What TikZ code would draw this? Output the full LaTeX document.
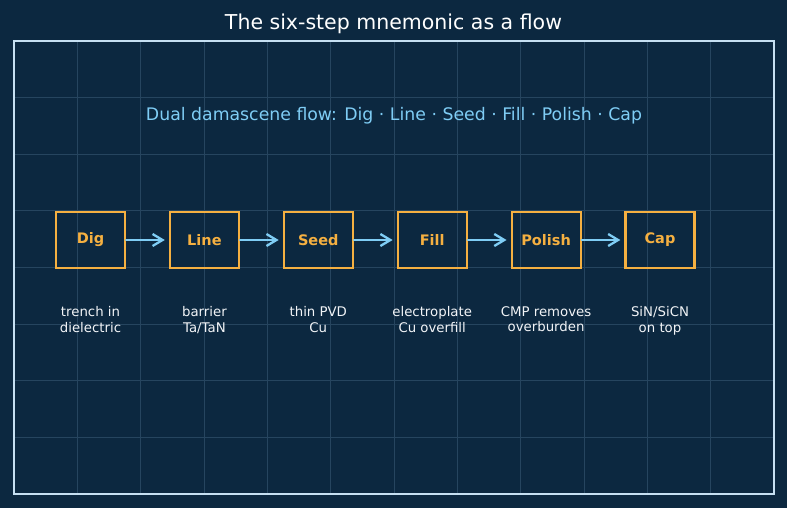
\documentclass[tikz,border=0pt]{standalone}
\usepackage{fontspec}
\setmainfont{DejaVu Sans}
\usepackage{xcolor}
\usepackage{tikz}
\usetikzlibrary{arrows.meta,positioning}

\definecolor{bgnavy}{HTML}{0C2840}
\definecolor{gridblue}{HTML}{26455F}
\definecolor{framewhite}{HTML}{C6E0F2}
\definecolor{steporange}{HTML}{F5B041}
\definecolor{flowblue}{HTML}{7FCDF5}
\definecolor{notewhite}{HTML}{F2F4F7}

\begin{document}
\begin{tikzpicture}[
    x=1pt, y=-1pt,
    node distance=42.7pt,
    stepbox/.style={draw=steporange, line width=2.2pt, minimum width=69pt, minimum height=56pt,
                    text=steporange, font=\fontsize{14.5}{17}\selectfont\bfseries},
    note/.style={text=notewhite, align=center, inner sep=0pt,
                 font=\fontsize{13.3}{15.8}\selectfont},
    flow/.style={-{Straight Barb[length=10pt, width=12pt]}, line width=2.3pt, flowblue,
                 shorten >=4pt, line cap=round},
    gridline/.style={gridblue, line width=0.8pt}
]

% Background and frame
\fill[bgnavy] (0,0) rectangle (787,508);
\useasboundingbox (0,0) rectangle (787,508);
\foreach \gx in {1,...,11}
    \draw[gridline] (14+63.33*\gx, 41) -- ++(0,453);
\foreach \gy in {1,...,7}
    \draw[gridline] (14, 41+56.6*\gy) -- ++(760,0);
\draw[framewhite, line width=1.6pt] (14,41) rectangle (774,494);

% Titles
\node[text=white, font=\fontsize{20.5}{24}\selectfont] (title) at (393.5,23.5) {The six-step mnemonic as a flow};
\node[text=flowblue, font=\fontsize{17.3}{20}\selectfont] (subtitle) at (394,116)
    {Dual damascene flow: Dig · Line · Seed · Fill · Polish · Cap};

% Steps
\node[stepbox] (dig) at (90.5,240) {Dig};
\node[stepbox, right=of dig] (line) {Line};
\node[stepbox, right=of line] (seed) {Seed};
\node[stepbox, right=of seed] (fill) {Fill};
\node[stepbox, right=of fill] (polish) {Polish};
\node[stepbox, right=of polish] (cap) {Cap};

% Arrows
\draw[flow] (dig) -- (line);
\draw[flow] (line) -- (seed);
\draw[flow] (seed) -- (fill);
\draw[flow] (fill) -- (polish);
\draw[flow] (polish) -- (cap);

% Notes
\node[note, below=37pt of dig] (digtxt) {trench in\\dielectric};
\node[note, below=37pt of line] (linetxt) {barrier\\Ta/TaN};
\node[note, below=37pt of seed] (seedtxt) {thin PVD\\Cu};
\node[note, below=37pt of fill] (filltxt) {electroplate\\Cu overfill};
\node[note, below=37pt of polish] (polishtxt) {CMP removes\\overburden};
\node[note, below=37pt of cap] (captxt) {SiN/SiCN\\on top};

\end{tikzpicture}
\end{document}
